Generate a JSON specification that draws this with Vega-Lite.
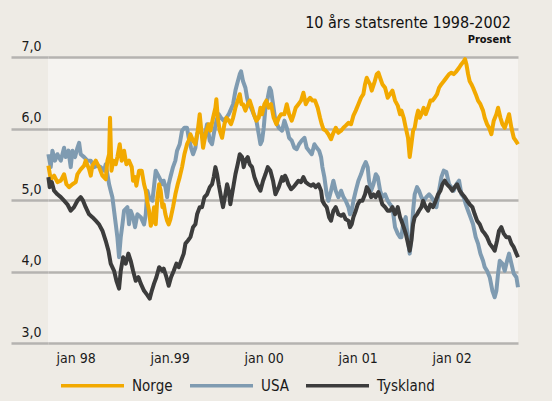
{
  "$schema": "https://vega.github.io/schema/vega-lite/v6.json",
  "width": 470,
  "height": 286,
  "autosize": {"type": "none"},
  "padding": {"left": 48, "top": 57, "right": 34, "bottom": 58},
  "background": "#eeebe5",
  "title": {
    "text": "10 års statsrente 1998-2002",
    "subtitle": "Prosent",
    "anchor": "end",
    "frame": "group",
    "font": "DejaVu Sans Condensed",
    "fontSize": 16,
    "fontWeight": 500,
    "color": "#111111",
    "subtitleFont": "DejaVu Sans Condensed",
    "subtitleFontSize": 11,
    "subtitleFontWeight": "bold",
    "subtitleColor": "#111111",
    "subtitlePadding": 3,
    "offset": -6,
    "dx": -7
  },
  "config": {
    "view": {"fill": "#f5f3f0", "stroke": null},
    "font": "DejaVu Sans Condensed"
  },
  "data": {
    "values": [
      {"country":"USA","year":1997.709,"yield":5.64},{"country":"USA","year":1997.734,"yield":5.46},{"country":"USA","year":1997.752,"yield":5.69},{"country":"USA","year":1997.780,"yield":5.55},{"country":"USA","year":1997.805,"yield":5.64},{"country":"USA","year":1997.841,"yield":5.55},{"country":"USA","year":1997.876,"yield":5.73},{"country":"USA","year":1997.894,"yield":5.60},{"country":"USA","year":1997.922,"yield":5.69},{"country":"USA","year":1997.947,"yield":5.46},{"country":"USA","year":1997.965,"yield":5.69},{"country":"USA","year":1997.993,"yield":5.60},{"country":"USA","year":1998.018,"yield":5.73},{"country":"USA","year":1998.036,"yield":5.80},{"country":"USA","year":1998.053,"yield":5.64},{"country":"USA","year":1998.089,"yield":5.60},{"country":"USA","year":1998.124,"yield":5.55},{"country":"USA","year":1998.160,"yield":5.55},{"country":"USA","year":1998.195,"yield":5.46},{"country":"USA","year":1998.231,"yield":5.48},{"country":"USA","year":1998.266,"yield":5.46},{"country":"USA","year":1998.302,"yield":5.41},{"country":"USA","year":1998.319,"yield":5.50},{"country":"USA","year":1998.337,"yield":5.36},{"country":"USA","year":1998.355,"yield":5.22},{"country":"USA","year":1998.372,"yield":5.13},{"country":"USA","year":1998.390,"yield":5.04},{"country":"USA","year":1998.426,"yield":4.66},{"country":"USA","year":1998.443,"yield":4.48},{"country":"USA","year":1998.461,"yield":4.20},{"country":"USA","year":1998.479,"yield":4.48},{"country":"USA","year":1998.497,"yield":4.66},{"country":"USA","year":1998.514,"yield":4.85},{"country":"USA","year":1998.550,"yield":4.90},{"country":"USA","year":1998.567,"yield":4.66},{"country":"USA","year":1998.585,"yield":4.85},{"country":"USA","year":1998.610,"yield":4.76},{"country":"USA","year":1998.631,"yield":4.62},{"country":"USA","year":1998.656,"yield":4.80},{"country":"USA","year":1998.692,"yield":4.76},{"country":"USA","year":1998.727,"yield":4.66},{"country":"USA","year":1998.745,"yield":4.80},{"country":"USA","year":1998.762,"yield":5.13},{"country":"USA","year":1998.780,"yield":5.04},{"country":"USA","year":1998.816,"yield":4.99},{"country":"USA","year":1998.851,"yield":5.41},{"country":"USA","year":1998.887,"yield":5.32},{"country":"USA","year":1998.922,"yield":5.22},
      {"country":"USA","year":1998.936,"yield":5.27},{"country":"USA","year":1998.954,"yield":5.18},{"country":"USA","year":1998.972,"yield":5.04},{"country":"USA","year":1998.989,"yield":5.22},{"country":"USA","year":1999.007,"yield":5.32},{"country":"USA","year":1999.035,"yield":5.46},{"country":"USA","year":1999.060,"yield":5.55},{"country":"USA","year":1999.078,"yield":5.69},{"country":"USA","year":1999.106,"yield":5.78},{"country":"USA","year":1999.131,"yield":5.97},{"country":"USA","year":1999.156,"yield":6.01},{"country":"USA","year":1999.184,"yield":6.01},{"country":"USA","year":1999.202,"yield":5.87},{"country":"USA","year":1999.227,"yield":5.73},{"country":"USA","year":1999.248,"yield":5.64},{"country":"USA","year":1999.273,"yield":5.73},{"country":"USA","year":1999.291,"yield":5.92},{"country":"USA","year":1999.319,"yield":6.01},{"country":"USA","year":1999.344,"yield":5.92},{"country":"USA","year":1999.369,"yield":5.87},{"country":"USA","year":1999.397,"yield":6.06},{"country":"USA","year":1999.426,"yield":5.83},{"country":"USA","year":1999.450,"yield":5.78},{"country":"USA","year":1999.475,"yield":5.97},{"country":"USA","year":1999.497,"yield":6.11},{"country":"USA","year":1999.521,"yield":6.20},{"country":"USA","year":1999.546,"yield":6.15},{"country":"USA","year":1999.574,"yield":6.11},{"country":"USA","year":1999.603,"yield":6.15},{"country":"USA","year":1999.628,"yield":6.20},{"country":"USA","year":1999.645,"yield":6.25},{"country":"USA","year":1999.674,"yield":6.34},{"country":"USA","year":1999.699,"yield":6.53},{"country":"USA","year":1999.716,"yield":6.62},{"country":"USA","year":1999.745,"yield":6.76},{"country":"USA","year":1999.759,"yield":6.80},{"country":"USA","year":1999.780,"yield":6.66},{"country":"USA","year":1999.805,"yield":6.57},{"country":"USA","year":1999.823,"yield":6.43},{"country":"USA","year":1999.840,"yield":6.34},{"country":"USA","year":1999.865,"yield":6.29},{"country":"USA","year":1999.894,"yield":6.20},{"country":"USA","year":1999.922,"yield":6.11},{"country":"USA","year":1999.947,"yield":5.92},{"country":"USA","year":1999.965,"yield":5.78},{"country":"USA","year":1999.982,"yield":5.83},{"country":"USA","year":2000.000,"yield":6.01},{"country":"USA","year":2000.018,"yield":6.29},{"country":"USA","year":2000.043,"yield":6.43},{"country":"USA","year":2000.064,"yield":6.57},{"country":"USA","year":2000.078,"yield":6.53},{"country":"USA","year":2000.099,"yield":6.34},{"country":"USA","year":2000.124,"yield":6.11},{"country":"USA","year":2000.160,"yield":6.01},{"country":"USA","year":2000.195,"yield":5.97},
      {"country":"USA","year":2000.220,"yield":6.11},{"country":"USA","year":2000.245,"yield":6.01},{"country":"USA","year":2000.270,"yield":5.87},{"country":"USA","year":2000.298,"yield":5.83},{"country":"USA","year":2000.326,"yield":5.73},{"country":"USA","year":2000.351,"yield":5.71},{"country":"USA","year":2000.376,"yield":5.78},{"country":"USA","year":2000.404,"yield":5.83},{"country":"USA","year":2000.433,"yield":5.87},{"country":"USA","year":2000.457,"yield":5.73},{"country":"USA","year":2000.482,"yield":5.69},{"country":"USA","year":2000.511,"yield":5.64},{"country":"USA","year":2000.539,"yield":5.78},{"country":"USA","year":2000.564,"yield":5.73},{"country":"USA","year":2000.589,"yield":5.69},{"country":"USA","year":2000.610,"yield":5.60},{"country":"USA","year":2000.624,"yield":5.46},{"country":"USA","year":2000.645,"yield":5.32},{"country":"USA","year":2000.670,"yield":5.08},{"country":"USA","year":2000.688,"yield":4.99},{"country":"USA","year":2000.716,"yield":5.13},{"country":"USA","year":2000.741,"yield":5.27},{"country":"USA","year":2000.766,"yield":5.13},{"country":"USA","year":2000.794,"yield":5.04},{"country":"USA","year":2000.823,"yield":5.13},{"country":"USA","year":2000.848,"yield":5.04},{"country":"USA","year":2000.872,"yield":4.99},{"country":"USA","year":2000.901,"yield":4.90},{"country":"USA","year":2000.918,"yield":4.80},{"country":"USA","year":2000.936,"yield":4.85},{"country":"USA","year":2000.954,"yield":4.99},{"country":"USA","year":2000.979,"yield":5.13},{"country":"USA","year":2001.007,"yield":5.27},{"country":"USA","year":2001.035,"yield":5.36},{"country":"USA","year":2001.060,"yield":5.46},{"country":"USA","year":2001.085,"yield":5.53},{"country":"USA","year":2001.106,"yield":5.46},{"country":"USA","year":2001.120,"yield":5.27},{"country":"USA","year":2001.142,"yield":5.13},{"country":"USA","year":2001.167,"yield":5.22},{"country":"USA","year":2001.192,"yield":5.36},{"country":"USA","year":2001.213,"yield":5.32},{"country":"USA","year":2001.238,"yield":5.13},{"country":"USA","year":2001.262,"yield":5.04},{"country":"USA","year":2001.291,"yield":5.08},{"country":"USA","year":2001.319,"yield":4.99},{"country":"USA","year":2001.344,"yield":4.94},{"country":"USA","year":2001.369,"yield":4.90},{"country":"USA","year":2001.397,"yield":4.62},{"country":"USA","year":2001.426,"yield":4.53},{"country":"USA","year":2001.450,"yield":4.48},
      {"country":"USA","year":2001.465,"yield":4.48},{"country":"USA","year":2001.482,"yield":4.66},{"country":"USA","year":2001.511,"yield":4.76},{"country":"USA","year":2001.535,"yield":4.43},{"country":"USA","year":2001.553,"yield":4.25},{"country":"USA","year":2001.571,"yield":4.48},{"country":"USA","year":2001.589,"yield":4.85},{"country":"USA","year":2001.606,"yield":5.08},{"country":"USA","year":2001.631,"yield":5.18},{"country":"USA","year":2001.652,"yield":5.13},{"country":"USA","year":2001.677,"yield":5.04},{"country":"USA","year":2001.702,"yield":4.99},{"country":"USA","year":2001.730,"yield":5.04},{"country":"USA","year":2001.759,"yield":5.08},{"country":"USA","year":2001.784,"yield":5.04},{"country":"USA","year":2001.809,"yield":4.99},{"country":"USA","year":2001.837,"yield":4.90},{"country":"USA","year":2001.865,"yield":5.13},{"country":"USA","year":2001.890,"yield":5.32},{"country":"USA","year":2001.915,"yield":5.41},{"country":"USA","year":2001.943,"yield":5.39},{"country":"USA","year":2001.972,"yield":5.22},{"country":"USA","year":2001.996,"yield":5.18},{"country":"USA","year":2002.021,"yield":5.13},{"country":"USA","year":2002.050,"yield":5.22},{"country":"USA","year":2002.078,"yield":5.27},{"country":"USA","year":2002.103,"yield":5.08},{"country":"USA","year":2002.128,"yield":5.04},{"country":"USA","year":2002.149,"yield":4.94},{"country":"USA","year":2002.174,"yield":4.85},{"country":"USA","year":2002.199,"yield":4.76},{"country":"USA","year":2002.227,"yield":4.66},{"country":"USA","year":2002.255,"yield":4.48},{"country":"USA","year":2002.280,"yield":4.39},{"country":"USA","year":2002.305,"yield":4.25},{"country":"USA","year":2002.333,"yield":4.15},{"country":"USA","year":2002.351,"yield":4.06},{"country":"USA","year":2002.376,"yield":4.01},{"country":"USA","year":2002.404,"yield":3.92},{"country":"USA","year":2002.433,"yield":3.73},{"country":"USA","year":2002.457,"yield":3.64},{"country":"USA","year":2002.475,"yield":3.73},{"country":"USA","year":2002.493,"yield":3.97},{"country":"USA","year":2002.511,"yield":4.15},{"country":"USA","year":2002.539,"yield":4.11},{"country":"USA","year":2002.564,"yield":4.01},{"country":"USA","year":2002.589,"yield":4.15},{"country":"USA","year":2002.610,"yield":4.25},{"country":"USA","year":2002.635,"yield":4.11},{"country":"USA","year":2002.660,"yield":3.97},{"country":"USA","year":2002.688,"yield":3.92},{"country":"USA","year":2002.705,"yield":3.78},

      {"country":"Norge","year":1997.709,"yield":5.48},{"country":"Norge","year":1997.734,"yield":5.29},{"country":"Norge","year":1997.770,"yield":5.34},{"country":"Norge","year":1997.805,"yield":5.25},{"country":"Norge","year":1997.841,"yield":5.27},{"country":"Norge","year":1997.876,"yield":5.36},{"country":"Norge","year":1997.901,"yield":5.22},{"country":"Norge","year":1997.929,"yield":5.18},{"country":"Norge","year":1997.965,"yield":5.22},{"country":"Norge","year":1998.000,"yield":5.25},{"country":"Norge","year":1998.018,"yield":5.36},{"country":"Norge","year":1998.053,"yield":5.43},{"country":"Norge","year":1998.089,"yield":5.48},{"country":"Norge","year":1998.106,"yield":5.55},{"country":"Norge","year":1998.142,"yield":5.43},{"country":"Norge","year":1998.160,"yield":5.34},{"country":"Norge","year":1998.177,"yield":5.48},{"country":"Norge","year":1998.213,"yield":5.55},{"country":"Norge","year":1998.248,"yield":5.46},{"country":"Norge","year":1998.284,"yield":5.34},{"country":"Norge","year":1998.319,"yield":5.29},{"country":"Norge","year":1998.337,"yield":5.55},{"country":"Norge","year":1998.355,"yield":5.64},{"country":"Norge","year":1998.365,"yield":6.15},{"country":"Norge","year":1998.380,"yield":5.41},{"country":"Norge","year":1998.401,"yield":5.55},{"country":"Norge","year":1998.426,"yield":5.50},{"country":"Norge","year":1998.443,"yield":5.60},{"country":"Norge","year":1998.468,"yield":5.78},{"country":"Norge","year":1998.489,"yield":5.55},{"country":"Norge","year":1998.514,"yield":5.69},{"country":"Norge","year":1998.539,"yield":5.50},{"country":"Norge","year":1998.567,"yield":5.55},{"country":"Norge","year":1998.596,"yield":5.46},{"country":"Norge","year":1998.610,"yield":5.27},{"country":"Norge","year":1998.631,"yield":5.32},{"country":"Norge","year":1998.645,"yield":5.20},{"country":"Norge","year":1998.674,"yield":5.41},{"country":"Norge","year":1998.702,"yield":5.41},{"country":"Norge","year":1998.727,"yield":5.22},{"country":"Norge","year":1998.745,"yield":5.13},{"country":"Norge","year":1998.762,"yield":4.97},{"country":"Norge","year":1998.780,"yield":4.85},{"country":"Norge","year":1998.798,"yield":4.64},{"country":"Norge","year":1998.816,"yield":4.71},{"country":"Norge","year":1998.833,"yield":4.90},{"country":"Norge","year":1998.851,"yield":4.66},{"country":"Norge","year":1998.869,"yield":5.04},{"country":"Norge","year":1998.887,"yield":5.22},{"country":"Norge","year":1998.904,"yield":5.13},{"country":"Norge","year":1998.922,"yield":4.90},
      {"country":"Norge","year":1998.936,"yield":4.94},{"country":"Norge","year":1998.954,"yield":4.80},{"country":"Norge","year":1998.972,"yield":4.71},{"country":"Norge","year":1998.989,"yield":4.66},{"country":"Norge","year":1999.007,"yield":4.73},{"country":"Norge","year":1999.035,"yield":4.90},{"country":"Norge","year":1999.060,"yield":5.08},{"country":"Norge","year":1999.085,"yield":5.22},{"country":"Norge","year":1999.106,"yield":5.32},{"country":"Norge","year":1999.131,"yield":5.46},{"country":"Norge","year":1999.156,"yield":5.64},{"country":"Norge","year":1999.184,"yield":5.78},{"country":"Norge","year":1999.202,"yield":5.83},{"country":"Norge","year":1999.220,"yield":5.92},{"country":"Norge","year":1999.248,"yield":5.83},{"country":"Norge","year":1999.273,"yield":5.78},{"country":"Norge","year":1999.298,"yield":5.97},{"country":"Norge","year":1999.319,"yield":6.20},{"country":"Norge","year":1999.333,"yield":6.01},{"country":"Norge","year":1999.355,"yield":5.73},{"country":"Norge","year":1999.369,"yield":5.83},{"country":"Norge","year":1999.390,"yield":5.97},{"country":"Norge","year":1999.415,"yield":6.06},{"country":"Norge","year":1999.433,"yield":5.97},{"country":"Norge","year":1999.461,"yield":6.15},{"country":"Norge","year":1999.486,"yield":6.29},{"country":"Norge","year":1999.496,"yield":6.41},{"country":"Norge","year":1999.511,"yield":6.15},{"country":"Norge","year":1999.532,"yield":5.97},{"country":"Norge","year":1999.557,"yield":5.87},{"country":"Norge","year":1999.582,"yield":6.06},{"country":"Norge","year":1999.603,"yield":6.15},{"country":"Norge","year":1999.628,"yield":6.11},{"country":"Norge","year":1999.652,"yield":6.06},{"country":"Norge","year":1999.674,"yield":6.15},{"country":"Norge","year":1999.699,"yield":6.29},{"country":"Norge","year":1999.723,"yield":6.39},{"country":"Norge","year":1999.745,"yield":6.48},{"country":"Norge","year":1999.763,"yield":6.34},{"country":"Norge","year":1999.780,"yield":6.34},{"country":"Norge","year":1999.805,"yield":6.25},{"country":"Norge","year":1999.830,"yield":6.34},{"country":"Norge","year":1999.851,"yield":6.39},{"country":"Norge","year":1999.876,"yield":6.29},{"country":"Norge","year":1999.894,"yield":6.20},{"country":"Norge","year":1999.922,"yield":6.11},{"country":"Norge","year":1999.947,"yield":6.15},{"country":"Norge","year":1999.965,"yield":6.29},{"country":"Norge","year":1999.982,"yield":6.20},{"country":"Norge","year":2000.007,"yield":6.34},{"country":"Norge","year":2000.028,"yield":6.39},{"country":"Norge","year":2000.053,"yield":6.29},{"country":"Norge","year":2000.078,"yield":6.34},{"country":"Norge","year":2000.106,"yield":6.15},{"country":"Norge","year":2000.135,"yield":6.06},{"country":"Norge","year":2000.160,"yield":6.15},{"country":"Norge","year":2000.185,"yield":6.20},
      {"country":"Norge","year":2000.220,"yield":6.20},{"country":"Norge","year":2000.245,"yield":6.34},{"country":"Norge","year":2000.270,"yield":6.20},{"country":"Norge","year":2000.298,"yield":6.11},{"country":"Norge","year":2000.316,"yield":6.18},{"country":"Norge","year":2000.340,"yield":6.29},{"country":"Norge","year":2000.369,"yield":6.34},{"country":"Norge","year":2000.397,"yield":6.39},{"country":"Norge","year":2000.422,"yield":6.50},{"country":"Norge","year":2000.447,"yield":6.34},{"country":"Norge","year":2000.468,"yield":6.39},{"country":"Norge","year":2000.493,"yield":6.43},{"country":"Norge","year":2000.518,"yield":6.39},{"country":"Norge","year":2000.546,"yield":6.39},{"country":"Norge","year":2000.574,"yield":6.29},{"country":"Norge","year":2000.599,"yield":6.15},{"country":"Norge","year":2000.617,"yield":6.06},{"country":"Norge","year":2000.635,"yield":5.99},{"country":"Norge","year":2000.660,"yield":5.97},{"country":"Norge","year":2000.688,"yield":5.92},{"country":"Norge","year":2000.716,"yield":5.85},{"country":"Norge","year":2000.741,"yield":5.94},{"country":"Norge","year":2000.766,"yield":6.01},{"country":"Norge","year":2000.794,"yield":5.94},{"country":"Norge","year":2000.823,"yield":5.97},{"country":"Norge","year":2000.848,"yield":6.01},{"country":"Norge","year":2000.872,"yield":6.04},{"country":"Norge","year":2000.901,"yield":6.08},{"country":"Norge","year":2000.929,"yield":6.06},{"country":"Norge","year":2000.954,"yield":6.18},{"country":"Norge","year":2000.979,"yield":6.25},{"country":"Norge","year":2001.007,"yield":6.34},{"country":"Norge","year":2001.035,"yield":6.43},{"country":"Norge","year":2001.060,"yield":6.48},{"country":"Norge","year":2001.078,"yield":6.62},{"country":"Norge","year":2001.096,"yield":6.71},{"country":"Norge","year":2001.113,"yield":6.66},{"country":"Norge","year":2001.131,"yield":6.62},{"country":"Norge","year":2001.149,"yield":6.53},{"country":"Norge","year":2001.177,"yield":6.64},{"country":"Norge","year":2001.202,"yield":6.76},{"country":"Norge","year":2001.220,"yield":6.78},{"country":"Norge","year":2001.238,"yield":6.71},{"country":"Norge","year":2001.262,"yield":6.62},{"country":"Norge","year":2001.291,"yield":6.57},{"country":"Norge","year":2001.319,"yield":6.43},{"country":"Norge","year":2001.344,"yield":6.48},{"country":"Norge","year":2001.369,"yield":6.53},{"country":"Norge","year":2001.397,"yield":6.39},{"country":"Norge","year":2001.426,"yield":6.32},{"country":"Norge","year":2001.450,"yield":6.20},
      {"country":"Norge","year":2001.465,"yield":6.25},{"country":"Norge","year":2001.489,"yield":6.15},{"country":"Norge","year":2001.511,"yield":6.01},{"country":"Norge","year":2001.535,"yield":5.87},{"country":"Norge","year":2001.553,"yield":5.60},{"country":"Norge","year":2001.571,"yield":5.78},{"country":"Norge","year":2001.589,"yield":5.97},{"country":"Norge","year":2001.606,"yield":6.01},{"country":"Norge","year":2001.624,"yield":6.15},{"country":"Norge","year":2001.642,"yield":6.25},{"country":"Norge","year":2001.660,"yield":6.15},{"country":"Norge","year":2001.677,"yield":6.20},{"country":"Norge","year":2001.702,"yield":6.29},{"country":"Norge","year":2001.723,"yield":6.20},{"country":"Norge","year":2001.748,"yield":6.29},{"country":"Norge","year":2001.773,"yield":6.39},{"country":"Norge","year":2001.794,"yield":6.39},{"country":"Norge","year":2001.819,"yield":6.43},{"country":"Norge","year":2001.844,"yield":6.48},{"country":"Norge","year":2001.865,"yield":6.57},{"country":"Norge","year":2001.890,"yield":6.62},{"country":"Norge","year":2001.915,"yield":6.66},{"country":"Norge","year":2001.943,"yield":6.71},{"country":"Norge","year":2001.972,"yield":6.76},{"country":"Norge","year":2001.996,"yield":6.78},{"country":"Norge","year":2002.021,"yield":6.76},{"country":"Norge","year":2002.050,"yield":6.80},{"country":"Norge","year":2002.078,"yield":6.85},{"country":"Norge","year":2002.103,"yield":6.90},{"country":"Norge","year":2002.128,"yield":6.94},{"country":"Norge","year":2002.142,"yield":6.97},{"country":"Norge","year":2002.156,"yield":6.90},{"country":"Norge","year":2002.174,"yield":6.76},{"country":"Norge","year":2002.191,"yield":6.66},{"country":"Norge","year":2002.209,"yield":6.62},{"country":"Norge","year":2002.227,"yield":6.57},{"country":"Norge","year":2002.255,"yield":6.48},{"country":"Norge","year":2002.280,"yield":6.39},{"country":"Norge","year":2002.305,"yield":6.34},{"country":"Norge","year":2002.333,"yield":6.25},{"country":"Norge","year":2002.351,"yield":6.15},{"country":"Norge","year":2002.376,"yield":6.06},{"country":"Norge","year":2002.397,"yield":6.01},{"country":"Norge","year":2002.422,"yield":5.92},{"country":"Norge","year":2002.447,"yield":6.11},{"country":"Norge","year":2002.475,"yield":6.20},{"country":"Norge","year":2002.493,"yield":6.29},{"country":"Norge","year":2002.518,"yield":6.15},{"country":"Norge","year":2002.539,"yield":6.06},{"country":"Norge","year":2002.564,"yield":6.01},{"country":"Norge","year":2002.589,"yield":6.11},{"country":"Norge","year":2002.610,"yield":6.20},{"country":"Norge","year":2002.635,"yield":6.01},{"country":"Norge","year":2002.660,"yield":5.87},{"country":"Norge","year":2002.681,"yield":5.83},{"country":"Norge","year":2002.705,"yield":5.78},

      {"country":"Tyskland","year":1997.709,"yield":5.32},{"country":"Tyskland","year":1997.723,"yield":5.18},{"country":"Tyskland","year":1997.745,"yield":5.25},{"country":"Tyskland","year":1997.770,"yield":5.13},{"country":"Tyskland","year":1997.805,"yield":5.08},{"country":"Tyskland","year":1997.841,"yield":5.04},{"country":"Tyskland","year":1997.876,"yield":4.99},{"country":"Tyskland","year":1997.911,"yield":4.94},{"country":"Tyskland","year":1997.947,"yield":4.85},{"country":"Tyskland","year":1997.982,"yield":4.90},{"country":"Tyskland","year":1998.018,"yield":4.99},{"country":"Tyskland","year":1998.053,"yield":5.04},{"country":"Tyskland","year":1998.078,"yield":4.99},{"country":"Tyskland","year":1998.106,"yield":4.90},{"country":"Tyskland","year":1998.142,"yield":4.80},{"country":"Tyskland","year":1998.177,"yield":4.76},{"country":"Tyskland","year":1998.213,"yield":4.71},{"country":"Tyskland","year":1998.248,"yield":4.66},{"country":"Tyskland","year":1998.284,"yield":4.57},{"country":"Tyskland","year":1998.319,"yield":4.43},{"country":"Tyskland","year":1998.348,"yield":4.29},{"country":"Tyskland","year":1998.372,"yield":4.11},{"country":"Tyskland","year":1998.408,"yield":4.01},{"country":"Tyskland","year":1998.433,"yield":3.87},{"country":"Tyskland","year":1998.461,"yield":3.76},{"country":"Tyskland","year":1998.479,"yield":4.01},{"country":"Tyskland","year":1998.504,"yield":4.20},{"country":"Tyskland","year":1998.532,"yield":4.11},{"country":"Tyskland","year":1998.560,"yield":4.25},{"country":"Tyskland","year":1998.585,"yield":4.15},{"country":"Tyskland","year":1998.610,"yield":4.01},{"country":"Tyskland","year":1998.638,"yield":3.87},{"country":"Tyskland","year":1998.667,"yield":3.92},{"country":"Tyskland","year":1998.692,"yield":3.83},{"country":"Tyskland","year":1998.727,"yield":3.73},{"country":"Tyskland","year":1998.762,"yield":3.67},{"country":"Tyskland","year":1998.787,"yield":3.62},{"country":"Tyskland","year":1998.809,"yield":3.73},{"country":"Tyskland","year":1998.833,"yield":3.83},{"country":"Tyskland","year":1998.858,"yield":3.92},{"country":"Tyskland","year":1998.887,"yield":4.06},{"country":"Tyskland","year":1998.922,"yield":4.01},
      {"country":"Tyskland","year":1998.936,"yield":4.04},{"country":"Tyskland","year":1998.965,"yield":3.92},{"country":"Tyskland","year":1998.989,"yield":3.80},{"country":"Tyskland","year":1999.014,"yield":3.92},{"country":"Tyskland","year":1999.043,"yield":4.01},{"country":"Tyskland","year":1999.071,"yield":4.11},{"country":"Tyskland","year":1999.096,"yield":4.06},{"country":"Tyskland","year":1999.121,"yield":4.15},{"country":"Tyskland","year":1999.149,"yield":4.25},{"country":"Tyskland","year":1999.167,"yield":4.39},{"country":"Tyskland","year":1999.192,"yield":4.43},{"country":"Tyskland","year":1999.220,"yield":4.48},{"country":"Tyskland","year":1999.248,"yield":4.62},{"country":"Tyskland","year":1999.273,"yield":4.66},{"country":"Tyskland","year":1999.291,"yield":4.80},{"country":"Tyskland","year":1999.319,"yield":4.90},{"country":"Tyskland","year":1999.344,"yield":4.90},{"country":"Tyskland","year":1999.369,"yield":5.04},{"country":"Tyskland","year":1999.397,"yield":5.08},{"country":"Tyskland","year":1999.426,"yield":5.18},{"country":"Tyskland","year":1999.450,"yield":5.22},{"country":"Tyskland","year":1999.468,"yield":5.32},{"country":"Tyskland","year":1999.486,"yield":5.46},{"country":"Tyskland","year":1999.504,"yield":5.36},{"country":"Tyskland","year":1999.521,"yield":5.22},{"country":"Tyskland","year":1999.546,"yield":5.04},{"country":"Tyskland","year":1999.567,"yield":4.90},{"country":"Tyskland","year":1999.592,"yield":5.08},{"country":"Tyskland","year":1999.610,"yield":5.22},{"country":"Tyskland","year":1999.628,"yield":5.13},{"country":"Tyskland","year":1999.645,"yield":4.94},{"country":"Tyskland","year":1999.663,"yield":5.08},{"country":"Tyskland","year":1999.681,"yield":5.22},{"country":"Tyskland","year":1999.699,"yield":5.36},{"country":"Tyskland","year":1999.723,"yield":5.50},{"country":"Tyskland","year":1999.745,"yield":5.64},{"country":"Tyskland","year":1999.770,"yield":5.60},{"country":"Tyskland","year":1999.787,"yield":5.46},{"country":"Tyskland","year":1999.805,"yield":5.55},{"country":"Tyskland","year":1999.830,"yield":5.60},{"country":"Tyskland","year":1999.851,"yield":5.50},{"country":"Tyskland","year":1999.876,"yield":5.46},{"country":"Tyskland","year":1999.901,"yield":5.32},{"country":"Tyskland","year":1999.929,"yield":5.22},{"country":"Tyskland","year":1999.965,"yield":5.13},{"country":"Tyskland","year":1999.993,"yield":5.27},{"country":"Tyskland","year":2000.018,"yield":5.36},{"country":"Tyskland","year":2000.043,"yield":5.46},{"country":"Tyskland","year":2000.071,"yield":5.41},{"country":"Tyskland","year":2000.099,"yield":5.27},{"country":"Tyskland","year":2000.124,"yield":5.08},{"country":"Tyskland","year":2000.160,"yield":5.18},{"country":"Tyskland","year":2000.195,"yield":5.32},
      {"country":"Tyskland","year":2000.209,"yield":5.27},{"country":"Tyskland","year":2000.227,"yield":5.34},{"country":"Tyskland","year":2000.245,"yield":5.29},{"country":"Tyskland","year":2000.262,"yield":5.22},{"country":"Tyskland","year":2000.291,"yield":5.15},{"country":"Tyskland","year":2000.316,"yield":5.18},{"country":"Tyskland","year":2000.340,"yield":5.22},{"country":"Tyskland","year":2000.369,"yield":5.27},{"country":"Tyskland","year":2000.397,"yield":5.25},{"country":"Tyskland","year":2000.422,"yield":5.32},{"country":"Tyskland","year":2000.447,"yield":5.25},{"country":"Tyskland","year":2000.475,"yield":5.22},{"country":"Tyskland","year":2000.504,"yield":5.20},{"country":"Tyskland","year":2000.528,"yield":5.22},{"country":"Tyskland","year":2000.553,"yield":5.18},{"country":"Tyskland","year":2000.582,"yield":5.22},{"country":"Tyskland","year":2000.610,"yield":5.13},{"country":"Tyskland","year":2000.624,"yield":4.99},{"country":"Tyskland","year":2000.645,"yield":4.94},{"country":"Tyskland","year":2000.670,"yield":4.90},{"country":"Tyskland","year":2000.695,"yield":4.76},{"country":"Tyskland","year":2000.716,"yield":4.71},{"country":"Tyskland","year":2000.741,"yield":4.85},{"country":"Tyskland","year":2000.766,"yield":4.90},{"country":"Tyskland","year":2000.794,"yield":4.80},{"country":"Tyskland","year":2000.823,"yield":4.78},{"country":"Tyskland","year":2000.848,"yield":4.80},{"country":"Tyskland","year":2000.872,"yield":4.73},{"country":"Tyskland","year":2000.901,"yield":4.71},{"country":"Tyskland","year":2000.918,"yield":4.62},{"country":"Tyskland","year":2000.936,"yield":4.66},{"country":"Tyskland","year":2000.954,"yield":4.76},{"country":"Tyskland","year":2000.979,"yield":4.85},{"country":"Tyskland","year":2001.000,"yield":4.94},{"country":"Tyskland","year":2001.025,"yield":4.99},{"country":"Tyskland","year":2001.050,"yield":4.99},{"country":"Tyskland","year":2001.078,"yield":5.08},{"country":"Tyskland","year":2001.096,"yield":5.18},{"country":"Tyskland","year":2001.120,"yield":5.13},{"country":"Tyskland","year":2001.142,"yield":5.04},{"country":"Tyskland","year":2001.167,"yield":5.08},{"country":"Tyskland","year":2001.192,"yield":5.04},{"country":"Tyskland","year":2001.220,"yield":5.11},{"country":"Tyskland","year":2001.238,"yield":5.04},{"country":"Tyskland","year":2001.262,"yield":4.94},{"country":"Tyskland","year":2001.291,"yield":4.90},{"country":"Tyskland","year":2001.319,"yield":4.85},{"country":"Tyskland","year":2001.344,"yield":4.85},{"country":"Tyskland","year":2001.369,"yield":4.90},{"country":"Tyskland","year":2001.397,"yield":4.80},{"country":"Tyskland","year":2001.426,"yield":4.90},{"country":"Tyskland","year":2001.450,"yield":4.76},
      {"country":"Tyskland","year":2001.465,"yield":4.71},{"country":"Tyskland","year":2001.489,"yield":4.62},{"country":"Tyskland","year":2001.511,"yield":4.53},{"country":"Tyskland","year":2001.535,"yield":4.39},{"country":"Tyskland","year":2001.553,"yield":4.29},{"country":"Tyskland","year":2001.571,"yield":4.43},{"country":"Tyskland","year":2001.589,"yield":4.66},{"country":"Tyskland","year":2001.606,"yield":4.76},{"country":"Tyskland","year":2001.631,"yield":4.80},{"country":"Tyskland","year":2001.652,"yield":4.85},{"country":"Tyskland","year":2001.677,"yield":4.90},{"country":"Tyskland","year":2001.695,"yield":4.99},{"country":"Tyskland","year":2001.723,"yield":4.90},{"country":"Tyskland","year":2001.748,"yield":4.85},{"country":"Tyskland","year":2001.773,"yield":4.94},{"country":"Tyskland","year":2001.801,"yield":4.90},{"country":"Tyskland","year":2001.830,"yield":4.99},{"country":"Tyskland","year":2001.855,"yield":5.08},{"country":"Tyskland","year":2001.880,"yield":5.13},{"country":"Tyskland","year":2001.901,"yield":5.22},{"country":"Tyskland","year":2001.926,"yield":5.27},{"country":"Tyskland","year":2001.950,"yield":5.22},{"country":"Tyskland","year":2001.979,"yield":5.18},{"country":"Tyskland","year":2002.007,"yield":5.13},{"country":"Tyskland","year":2002.032,"yield":5.18},{"country":"Tyskland","year":2002.057,"yield":5.22},{"country":"Tyskland","year":2002.085,"yield":5.13},{"country":"Tyskland","year":2002.113,"yield":5.08},{"country":"Tyskland","year":2002.138,"yield":5.04},{"country":"Tyskland","year":2002.163,"yield":4.99},{"country":"Tyskland","year":2002.191,"yield":4.94},{"country":"Tyskland","year":2002.220,"yield":4.90},{"country":"Tyskland","year":2002.245,"yield":4.80},{"country":"Tyskland","year":2002.270,"yield":4.71},{"country":"Tyskland","year":2002.298,"yield":4.66},{"country":"Tyskland","year":2002.326,"yield":4.57},{"country":"Tyskland","year":2002.351,"yield":4.53},{"country":"Tyskland","year":2002.376,"yield":4.48},{"country":"Tyskland","year":2002.404,"yield":4.39},{"country":"Tyskland","year":2002.433,"yield":4.34},{"country":"Tyskland","year":2002.457,"yield":4.29},{"country":"Tyskland","year":2002.482,"yield":4.43},{"country":"Tyskland","year":2002.503,"yield":4.57},{"country":"Tyskland","year":2002.528,"yield":4.62},{"country":"Tyskland","year":2002.553,"yield":4.53},{"country":"Tyskland","year":2002.582,"yield":4.48},{"country":"Tyskland","year":2002.610,"yield":4.48},{"country":"Tyskland","year":2002.635,"yield":4.39},{"country":"Tyskland","year":2002.660,"yield":4.34},{"country":"Tyskland","year":2002.688,"yield":4.25},{"country":"Tyskland","year":2002.705,"yield":4.20}
    ]
  },
  "encoding": {
    "x": {
      "field": "year", "type": "quantitative",
      "scale": {"domain": [1997.705, 2002.705], "nice": false, "zero": false},
      "axis": {
        "title": null, "values": [1998, 1999, 2000, 2001, 2002],
        "labelExpr": "datum.value == 1999 ? 'jan.99' : 'jan ' + substring(toString(datum.value), 2, 4)",
        "domain": false, "ticks": false, "grid": false,
        "labelFont": "DejaVu Sans Condensed", "labelFontSize": 14, "labelColor": "#1a1a1a",
        "labelPadding": 8, "labelFlush": false, "labelOverlap": false, "labelBound": false
      }
    },
    "y": {
      "field": "yield", "type": "quantitative",
      "scale": {"domain": [3, 7], "nice": false, "zero": false},
      "axis": {
        "title": null, "values": [3, 4, 5, 6, 7],
        "labelExpr": "replace(format(datum.value, '.1f'), '.', ',')",
        "domain": false,
        "grid": true, "gridColor": "#b5b3b0", "gridWidth": 2.5, "gridOpacity": 1,
        "ticks": true, "tickSize": 37, "tickColor": "#b5b3b0", "tickWidth": 2.5,
        "labelAlign": "right", "labelBaseline": "alphabetic", "labelOffset": -7, "labelPadding": -30,
        "labelFont": "DejaVu Sans Condensed", "labelFontSize": 14, "labelColor": "#1a1a1a",
        "labelFlush": false, "labelOverlap": false, "labelBound": false
      }
    },
    "color": {
      "field": "country", "type": "nominal",
      "scale": {"domain": ["Norge", "USA", "Tyskland"], "range": ["#f2a900", "#7f9bb1", "#3c3c3c"]},
      "legend": {
        "title": null, "orient": "none", "direction": "horizontal",
        "legendX": 11, "legendY": 295,
        "symbolType": "stroke", "symbolSize": 3969, "symbolStrokeWidth": 3.5,
        "labelFont": "DejaVu Sans Condensed", "labelFontSize": 15, "labelColor": "#1a1a1a",
        "labelOffset": 6, "columnPadding": 10, "padding": 0
      }
    }
  },
  "layer": [
    {"transform": [{"filter": "datum.country == 'USA'"}], "mark": {"type": "line", "strokeWidth": 4, "strokeJoin": "round"}},
    {"transform": [{"filter": "datum.country == 'Norge'"}], "mark": {"type": "line", "strokeWidth": 4, "strokeJoin": "round"}},
    {"transform": [{"filter": "datum.country == 'Tyskland'"}], "mark": {"type": "line", "strokeWidth": 4, "strokeJoin": "round"}}
  ]
}
